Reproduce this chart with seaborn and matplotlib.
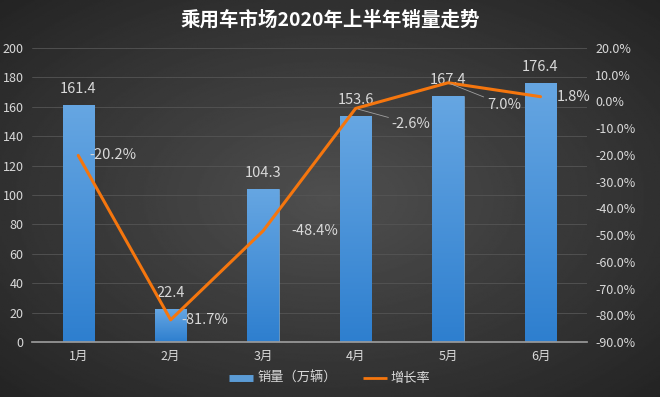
import numpy as np
import pandas as pd
import matplotlib
matplotlib.use("Agg")
import matplotlib.pyplot as plt
import seaborn as sns
from matplotlib.lines import Line2D
from matplotlib.ticker import PercentFormatter

# data
months = ["1月", "2月", "3月", "4月", "5月", "6月"]
sales = [161.4, 22.4, 104.3, 153.6, 167.4, 176.4]
growth = [-20.2, -81.7, -48.4, -2.6, 7.0, 1.8]

sns.set_theme(style="white")
plt.rcParams["font.family"] = ["Noto Sans CJK SC", "DejaVu Sans"]
plt.rcParams["axes.unicode_minus"] = False

txt = "#d9d9d9"
blue = "#5b9bd5"
orange = "#f5760e"

df = pd.DataFrame({"月份": months, "销量": sales, "增长率": growth})

fig = plt.figure(figsize=(6.6, 3.97), dpi=100)

# dark radial background
bg = fig.add_axes([0, 0, 1, 1], zorder=-10)
yy, xx = np.mgrid[-1:1:300j, -1:1:400j]
r = np.sqrt(xx ** 2 + yy ** 2) / np.sqrt(2)
bg.imshow(0.31 - 0.17 * r, cmap="gray", vmin=0, vmax=1, aspect="auto",
          extent=[0, 1, 0, 1])
bg.axis("off")

ax = fig.add_axes([0.0485, 0.1385, 0.8405, 0.7405])
ax.patch.set_alpha(0)

sns.barplot(data=df, x="月份", y="销量", ax=ax, width=0.34, color=blue,
            saturation=1, zorder=2)

# vertical gradient fill on bars
grad = np.linspace(0, 1, 100).reshape(-1, 1)
cm = matplotlib.colors.LinearSegmentedColormap.from_list("b", ["#2e7fcf", "#66a6e2"])
for p in ax.patches:
    x0, y0 = p.get_x(), p.get_y()
    w, h = p.get_width(), p.get_height()
    im = ax.imshow(grad, cmap=cm, origin="lower", aspect="auto",
                   extent=[x0, x0 + w, y0, y0 + h], zorder=2)
    im.set_clip_path(p)
    p.set_edgecolor("#7fb6e8")
    p.set_linewidth(0.4)
ax.set_xlim(-0.5, 5.5)
ax.set_ylim(0, 200)
ax.set_yticks(range(0, 201, 20))
ax.grid(axis="y", color="#555555", linewidth=0.6)
ax.set_axisbelow(True)
ax.set_xlabel("")
ax.set_ylabel("")
ax.tick_params(colors=txt, labelsize=9, length=0, pad=6)
for s in ax.spines.values():
    s.set_visible(False)
ax.spines["bottom"].set_visible(True)
ax.spines["bottom"].set_color("#9a9a9a")
ax.spines["bottom"].set_zorder(3)

for i, v in enumerate(sales):
    ax.text(i, v + 6, f"{v:.1f}", ha="center", va="bottom", color=txt,
            fontsize=10.5, zorder=5)

ax2 = ax.twinx()
sns.lineplot(x=list(range(len(months))), y=growth, ax=ax2, color=orange,
             linewidth=2.2, zorder=4)
ax2.set_ylim(-90, 20)
ax2.set_yticks(range(-90, 21, 10))
ax2.yaxis.set_major_formatter(PercentFormatter(decimals=1))
ax2.tick_params(colors=txt, labelsize=9, length=0, pad=6)
for s in ax2.spines.values():
    s.set_visible(False)
ax2.grid(False)

# growth labels
offs = [(8, 0), (8, 0), (20, 0), (26, -11), (28, -16), (12, 0)]
for i, (g, (dx, dy)) in enumerate(zip(growth, offs)):
    lead = dict(arrowstyle="-", color="#a0a0a0", lw=0.6,
                shrinkA=0, shrinkB=2) if i in (3, 4) else None
    ax2.annotate(f"{g:.1f}%", xy=(i, g), xytext=(dx, dy),
                 textcoords="offset points", ha="left", va="center",
                 color=txt, fontsize=10.5, arrowprops=lead, zorder=5)

fig.suptitle("乘用车市场2020年上半年销量走势", color="white", fontsize=14,
             fontweight="bold", y=0.975)

handles = [Line2D([0], [0], color=blue, lw=5, solid_capstyle="butt"),
           Line2D([0], [0], color=orange, lw=2, solid_capstyle="butt")]
leg = fig.legend(handles, ["销量（万辆）", "增长率"], loc="lower center",
                 bbox_to_anchor=(0.5, 0.0), ncol=2, frameon=False,
                 fontsize=9.5, handlelength=1.8, handletextpad=0.3,
                 columnspacing=2.0)
for t in leg.get_texts():
    t.set_color(txt)

fig.savefig("out.png", dpi=100)
